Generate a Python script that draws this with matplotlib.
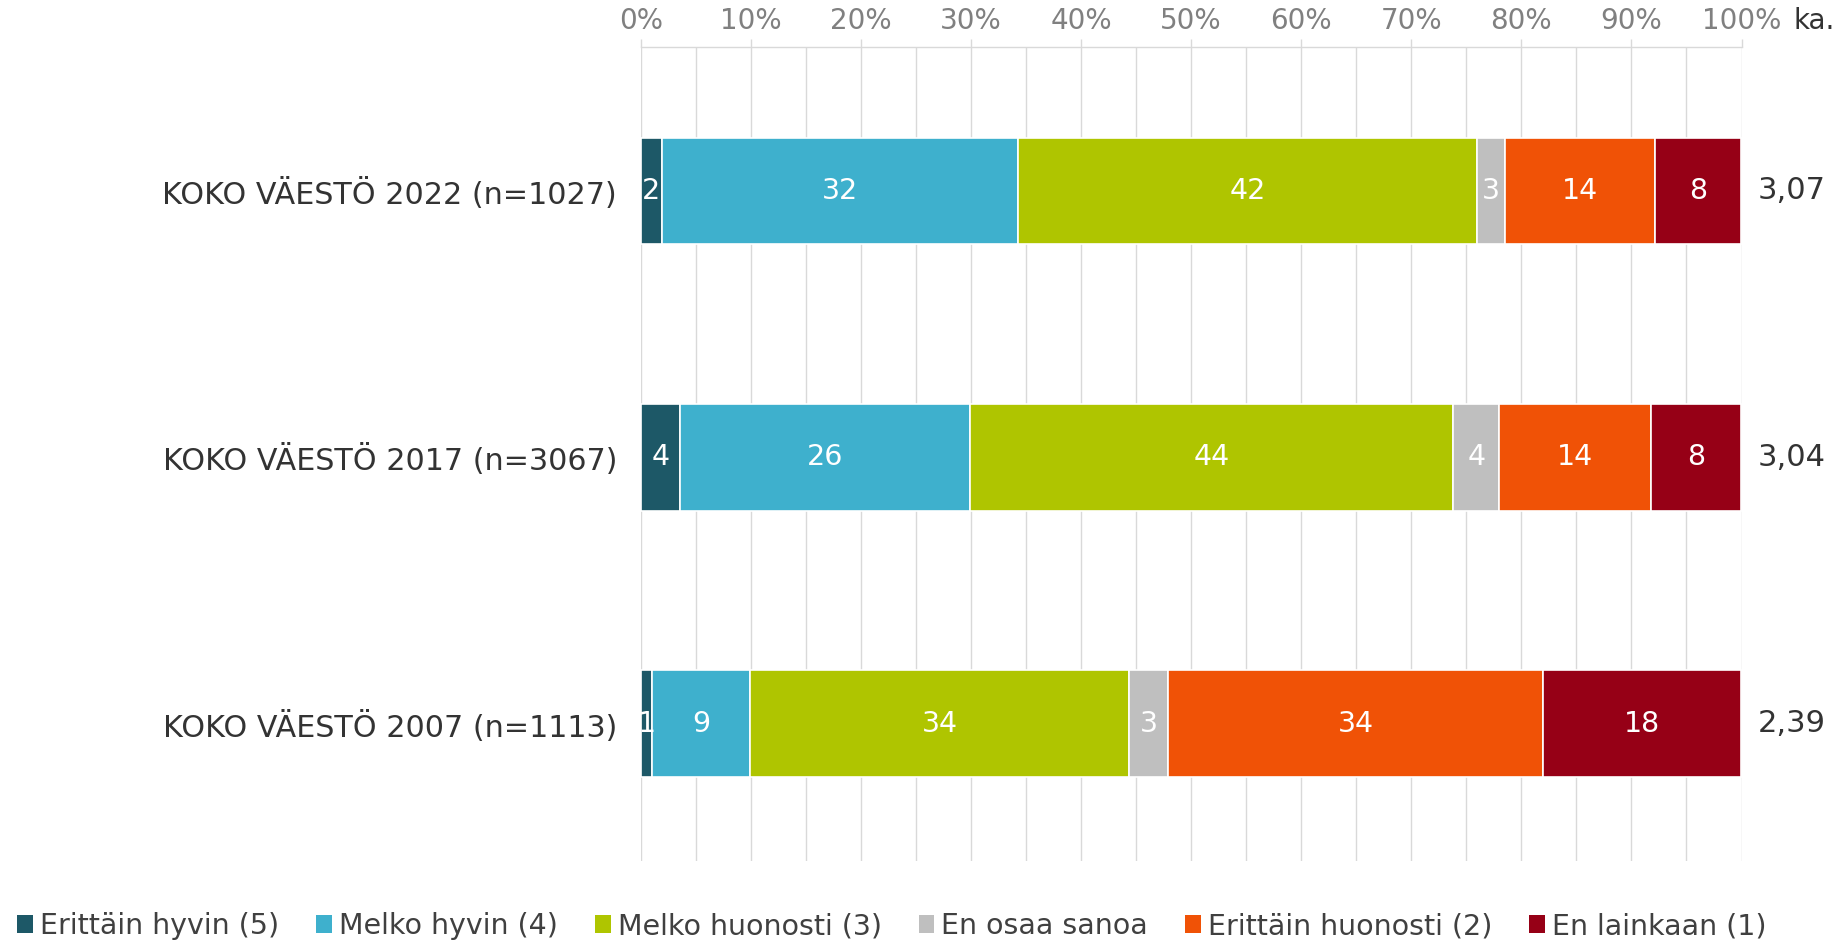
import matplotlib
matplotlib.use("Agg")
import matplotlib.pyplot as plt
from matplotlib.patches import Patch
import numpy as np

plt.rcParams['font.family'] = ['DejaVu Sans']

categories = ["KOKO VÄESTÖ 2022 (n=1027)", "KOKO VÄESTÖ 2017 (n=3067)", "KOKO VÄESTÖ 2007 (n=1113)"]
series_names = ["Erittäin hyvin (5)", "Melko hyvin (4)", "Melko huonosti (3)",
                "En osaa sanoa", "Erittäin huonosti (2)", "En lainkaan (1)"]
# segment widths (share of 100 %)
erittain_hyvin = [1.96, 3.6, 1.05]
melko_hyvin = [32.33, 26.31, 8.9]
melko_huonosti = [41.69, 43.89, 34.45]
en_osaa_sanoa = [2.54, 4.21, 3.5]
erittain_huonosti = [13.62, 13.77, 34.1]
en_lainkaan = [7.78, 8.15, 17.93]
# printed value labels
erittain_hyvin_lbl = ["2", "4", "1"]
melko_hyvin_lbl = ["32", "26", "9"]
melko_huonosti_lbl = ["42", "44", "34"]
en_osaa_sanoa_lbl = ["3", "4", "3"]
erittain_huonosti_lbl = ["14", "14", "34"]
en_lainkaan_lbl = ["8", "8", "18"]
averages = ["3,07", "3,04", "2,39"]
xticks = list(range(0, 101, 10))

colors = ["#1D5867", "#3EB0CD", "#AFC500", "#BFBFBF", "#F05206", "#960016"]
series = [erittain_hyvin, melko_hyvin, melko_huonosti, en_osaa_sanoa, erittain_huonosti, en_lainkaan]
labels = [erittain_hyvin_lbl, melko_hyvin_lbl, melko_huonosti_lbl, en_osaa_sanoa_lbl,
          erittain_huonosti_lbl, en_lainkaan_lbl]

fig = plt.figure(figsize=(18.37, 9.42), dpi=100)
ax = fig.add_axes([640.7/1837, 1-861/942, (1741.5-640.7)/1837, (861-47)/942])

y = np.arange(len(categories))
left = np.zeros(len(categories))
for vals, lbls, col in zip(series, labels, colors):
    vals = np.array(vals)
    ax.barh(y, vals, left=left, height=0.4, color=col, edgecolor="white", linewidth=1.2, zorder=3)
    for yi, l, v, t in zip(y, left, vals, lbls):
        ax.text(l + v/2, yi, t, ha="center", va="center", color="white",
                fontsize=20.5, zorder=4)
    left += vals

for yi, a in zip(y, averages):
    ax.text(101.5, yi, a, ha="left", va="center", fontsize=22, color="#333333")

ax.set_xlim(0, 100)
ax.set_ylim(2.515, -0.54)
ax.xaxis.tick_top()
ax.set_xticks(xticks)
ax.set_xticklabels([f"{t}%" for t in xticks])
ax.set_xticks(range(5, 100, 10), minor=True)
ax.tick_params(axis="x", which="major", length=6, width=1, color="#d9d9d9", pad=2.5,
               labelsize=20, labelcolor="#808080")
ax.tick_params(axis="x", which="minor", length=0)
ax.grid(axis="x", which="both", color="#d9d9d9", linewidth=1, zorder=0)
ax.set_yticks(y)
ax.set_yticklabels(categories)
ax.tick_params(axis="y", length=0, pad=17, labelsize=21.7, labelcolor="#333333")
for s in ["left", "right", "bottom"]:
    ax.spines[s].set_visible(False)
ax.spines["top"].set_color("#d9d9d9")
ax.spines["top"].set_linewidth(1)

fig.text(1794/1837, 1-21/942, "ka.", ha="left", va="center", fontsize=20, color="#333333")

handles = [Patch(facecolor=c, edgecolor="none") for c in colors]
fig.legend(handles, series_names, loc="center", bbox_to_anchor=(892/1837, 1-926/942),
           ncol=6, frameon=False, fontsize=20.5, handlelength=0.55, handleheight=0.55,
           handletextpad=0.25, columnspacing=1.3, labelcolor="#404040")

fig.savefig("out.png", dpi=100)
